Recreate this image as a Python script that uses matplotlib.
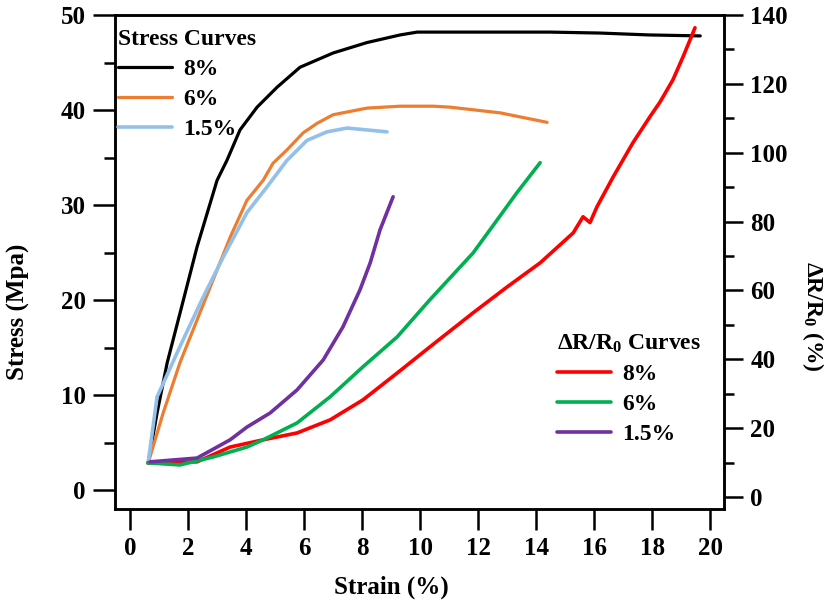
import matplotlib
matplotlib.use("Agg")
import matplotlib.pyplot as plt
from matplotlib.ticker import MultipleLocator

plt.rcParams["font.family"] = ["Liberation Serif", "DejaVu Serif"]
plt.rcParams["font.weight"] = "bold"
plt.rcParams["mathtext.fontset"] = "custom"
plt.rcParams["mathtext.rm"] = "Liberation Serif:bold"
plt.rcParams["mathtext.it"] = "Liberation Serif:bold"
plt.rcParams["mathtext.bf"] = "Liberation Serif:bold"

# stress curves (left axis), strain in %, stress in MPa
strain_s8 = [0.62, 0.93, 1.28, 1.72, 2.31, 3.0, 3.34, 3.79, 4.38, 5.07, 5.86, 7.0,
             8.17, 9.31, 9.9, 11.03, 14.48, 16.2, 17.9, 19.66]
stress_s8 = [2.8, 8.1, 13.4, 18.6, 25.6, 32.6, 34.7, 37.9, 40.3, 42.4, 44.5, 46.0,
             47.1, 47.9, 48.2, 48.2, 48.2, 48.1, 47.9, 47.8]
strain_s6 = [0.62, 1.14, 1.72, 2.31, 2.86, 3.45, 4.03, 4.59, 4.93, 5.41, 5.97, 6.45,
             7.0, 8.17, 9.31, 10.45, 11.03, 12.76, 14.38]
stress_s6 = [2.8, 8.1, 13.4, 17.9, 22.1, 26.6, 30.5, 32.6, 34.4, 35.8, 37.6, 38.6,
             39.5, 40.2, 40.4, 40.4, 40.3, 39.7, 38.7]
strain_s15 = [0.62, 0.93, 1.72, 2.52, 3.21, 4.03, 4.72, 5.41, 6.1, 6.79, 7.48, 8.17, 8.86]
stress_s15 = [2.8, 9.8, 15.1, 20.3, 24.5, 29.2, 31.9, 34.7, 36.8, 37.7, 38.1, 37.9, 37.7]

# resistance change curves (right axis), dR/R0 in %
strain_r8 = [0.62, 2.31, 3.45, 4.59, 5.76, 6.9, 8.03, 9.21, 10.34, 11.83, 13.0, 14.14,
             15.28, 15.62, 15.86, 16.1, 16.66, 17.34, 17.93, 18.28, 18.72, 19.07, 19.31, 19.48]
dr_r8 = [9.9, 10.2, 14.5, 16.6, 18.6, 22.4, 28.2, 36.0, 43.6, 53.5, 61.0, 68.0,
         76.7, 81.4, 79.7, 84.3, 93.0, 102.9, 110.5, 114.8, 121.2, 127.9, 132.8, 136.3]
strain_r6 = [0.62, 1.72, 2.86, 4.03, 4.59, 5.76, 6.9, 8.03, 9.21, 10.34, 11.83, 12.66,
             13.34, 14.14]
dr_r6 = [9.9, 9.3, 11.6, 14.5, 16.6, 21.5, 29.1, 37.8, 46.5, 57.3, 70.9, 80.5, 88.4, 97.1]
strain_r15 = [0.69, 2.31, 3.0, 3.45, 4.03, 4.83, 5.76, 6.66, 7.34, 7.93, 8.28, 8.62, 9.07]
dr_r15 = [10.2, 11.3, 14.5, 16.6, 20.3, 24.4, 31.1, 39.8, 49.4, 60.2, 68.0, 77.6, 87.2]

labels = ["8%", "6%", "1.5%"]
stress_colors = ["#000000", "#ED7D31", "#93C0E8"]
dr_colors = ["#FF0000", "#00B050", "#7030A0"]

fig = plt.figure(figsize=(8.31, 6.07), dpi=100)
ax = fig.add_axes([115 / 831, 98 / 607, 609 / 831, 494 / 607])
ax2 = ax.twinx()

stress_lines = []
for xs, ys, c, lab, lw in zip([strain_s8, strain_s6, strain_s15],
                              [stress_s8, stress_s6, stress_s15],
                              stress_colors, labels, [2.3, 2.3, 2.6]):
    (ln,) = ax.plot(xs, ys, color=c, lw=lw, label=lab, solid_capstyle="round")
    stress_lines.append(ln)

dr_lines = []
for xs, ys, c, lab in zip([strain_r8, strain_r6, strain_r15],
                          [dr_r8, dr_r6, dr_r15], dr_colors, labels):
    (ln,) = ax2.plot(xs, ys, color=c, lw=2.6, label=lab, solid_capstyle="round")
    dr_lines.append(ln)

ax.set_xlim(-0.52, 20.48)
ax.set_ylim(-2.0, 50)
ax2.set_ylim(-3.5, 140)

ax.set_xticks(range(0, 21, 2))
ax.set_yticks(range(0, 51, 10))
ax.yaxis.set_minor_locator(MultipleLocator(5))
ax2.set_yticks(range(0, 141, 20))
ax2.yaxis.set_minor_locator(MultipleLocator(10))

for a in (ax, ax2):
    for sp in a.spines.values():
        sp.set_linewidth(1.8)
        sp.set_color("black")

ax.tick_params(axis="x", which="major", direction="out", length=15, width=1.8,
               labelsize=18, pad=5)
ax.tick_params(axis="y", which="major", direction="out", length=16, width=1.8,
               labelsize=18, pad=5)
ax.tick_params(axis="y", which="minor", direction="out", length=8, width=1.8)
ax2.tick_params(axis="y", which="major", direction="out", length=14, width=1.8,
                labelsize=18, pad=5)
ax2.tick_params(axis="y", which="minor", direction="out", length=7, width=1.8)

ax.set_xlabel("Strain (%)", fontsize=18, fontweight="bold")
ax.xaxis.set_label_coords(0.453, -0.135)
ax.set_ylabel("Stress (Mpa)", fontsize=18, fontweight="bold")
ax.yaxis.set_label_coords(-0.14, 0.40)
ax2.set_ylabel(r"ΔR/R$_0$ (%)", fontsize=17, fontweight="bold", rotation=270,
               va="center")
ax2.yaxis.set_label_coords(1.146, 0.39)

leg1 = ax2.legend(handles=stress_lines, title="Stress Curves", loc="upper left",
                  bbox_to_anchor=(0.005, 0.972), frameon=False, borderpad=0,
                  prop={"size": 17, "weight": "bold"}, title_fontsize=17,
                  handlelength=2.3, handletextpad=0.45, labelspacing=0.36,
                  alignment="left", borderaxespad=0)
leg1.get_title().set_fontweight("bold")
ax2.add_artist(leg1)
leg2 = ax2.legend(handles=dr_lines, title=r"ΔR/R$_0$ Curves", loc="upper left",
                  bbox_to_anchor=(0.726, 0.357), frameon=False, borderpad=0,
                  prop={"size": 17, "weight": "bold"}, title_fontsize=17,
                  handlelength=2.3, handletextpad=0.45, labelspacing=0.36,
                  alignment="left", borderaxespad=0)
leg2.get_title().set_fontweight("bold")

fig.savefig("out.png", dpi=100)
